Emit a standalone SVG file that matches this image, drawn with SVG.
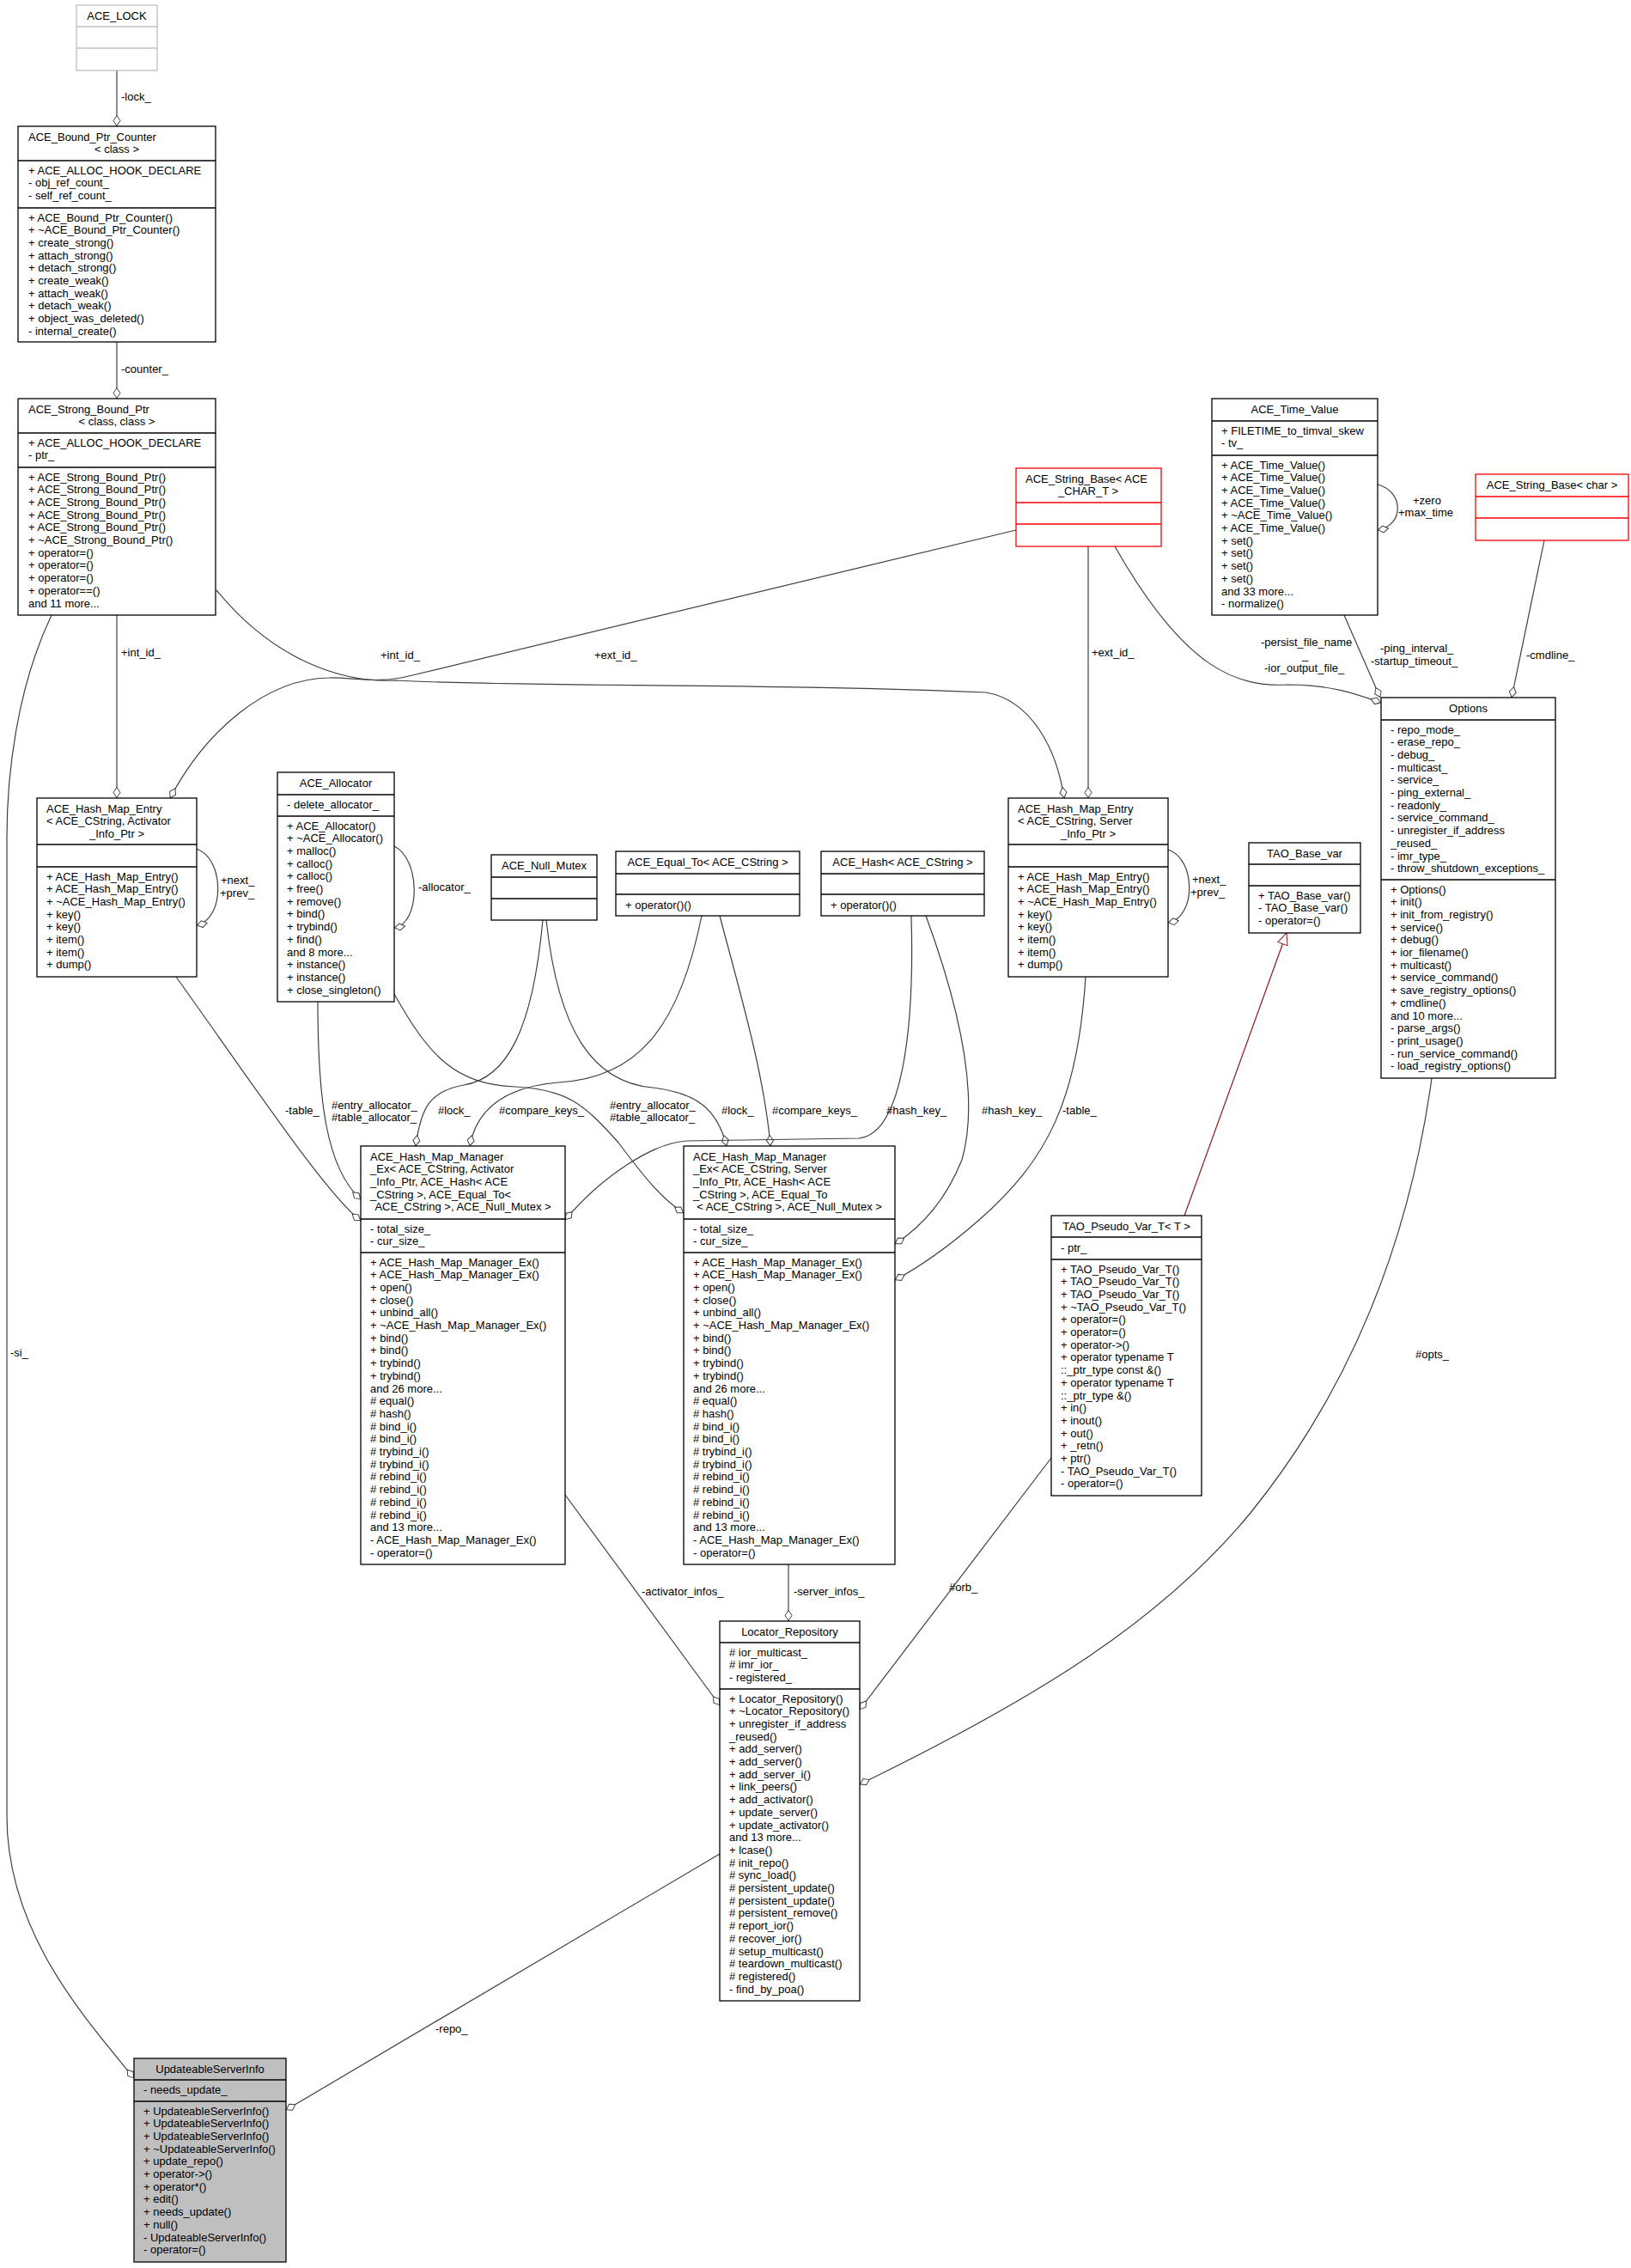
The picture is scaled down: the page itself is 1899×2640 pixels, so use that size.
<svg xmlns="http://www.w3.org/2000/svg" width="1899" height="2640" viewBox="0 0 1899 2640">
<style>
text{font-family:"Liberation Sans",Arial,sans-serif;font-size:13px;fill:#000}
.c{text-anchor:middle}
.b rect{fill:#fff;stroke:#000;stroke-width:1.3}
.b line{stroke:#000;stroke-width:1.3}
.g rect,.g line{stroke:#bfbfbf}
.r rect,.r line{stroke:#ff0000}
.e path{fill:none;stroke:#404040;stroke-width:1.2}
.e path.a{marker-end:url(#d)}
.e path.i{stroke:#8b1a1a;marker-end:url(#t)}
</style>
<defs>
<marker id="d" markerWidth="16" markerHeight="10" refX="13" refY="5" orient="auto" markerUnits="userSpaceOnUse"><path d="M0.5,5 L6.5,1 L12.5,5 L6.5,9 Z" fill="#fff" stroke="#404040"/></marker>
<marker id="t" markerWidth="16" markerHeight="14" refX="14" refY="7" orient="auto" markerUnits="userSpaceOnUse"><path d="M0.5,1 L14,7 L0.5,13 Z" fill="#fff" stroke="#8b1a1a"/></marker>
</defs>
<rect width="1899" height="2640" fill="#fff"/>

<g id="edges" class="e">
<path class="a" d="M136,82 L136,147"/>
<path class="a" d="M136,398 L136,464"/>
<path class="a" d="M136,716 L136,929"/>
<path class="a" d="M252,687 C320,770 400,795 461,792 C600,800 900,795 1148,806 C1200,815 1230,870 1239,929"/>
<path class="a" d="M1183,617 L480,786 C440,797 410,788 383,789 C310,790 240,850 198,929"/>
<path class="a" d="M1267,636 L1267,929"/>
<path class="a" d="M1298,636 C1380,780 1440,800 1500,797 C1550,797 1580,808 1608,818"/>
<path class="a" d="M1565,716 L1607,812"/>
<path class="a" d="M1604,564 C1635,572 1635,612 1604,617"/>
<path class="a" d="M1798,629 L1760,812"/>
<path class="a" d="M229,988 C262,1000 262,1070 229,1077"/>
<path class="a" d="M459,985 C490,1000 490,1075 459,1080"/>
<path class="a" d="M1360,989 C1393,1000 1393,1068 1360,1074"/>
<path class="a" d="M205,1137 C300,1270 380,1390 420,1421"/>
<path class="a" d="M370,1166 C370,1280 380,1360 420,1396"/>
<path class="a" d="M632,1071 C620,1200 590,1255 540,1263 C500,1270 490,1290 484,1334"/>
<path class="a" d="M636,1071 C650,1200 690,1260 760,1266 C810,1272 835,1290 846,1334"/>
<path class="a" d="M817,1066 C790,1200 740,1255 650,1260 C590,1265 555,1290 547,1334"/>
<path class="a" d="M838,1066 C860,1150 890,1250 897,1334"/>
<path class="a" d="M459,1157 C500,1230 530,1262 600,1265 C660,1268 680,1285 720,1330 C750,1370 770,1395 796,1412"/>
<path class="a" d="M1061,1066 C1065,1200 1050,1320 1000,1325 L800,1328 C760,1330 700,1370 658,1420"/>
<path class="a" d="M1078,1066 C1120,1180 1140,1280 1120,1350 C1100,1400 1070,1430 1042,1448"/>
<path class="a" d="M1264,1137 C1255,1280 1220,1350 1140,1420 C1100,1455 1070,1475 1042,1490"/>
<path class="a" d="M658,1740 L838,1985"/>
<path class="a" d="M918,1821 L918,1887"/>
<path class="a" d="M1224,1697 L1001,1990"/>
<path class="a" d="M1667,1255 C1640,1450 1570,1620 1456,1761 C1350,1890 1200,1980 1001,2077"/>
<path class="i" d="M1379,1415 L1498,1086"/>
<path class="a" d="M60,716 C20,800 8,900 8,975 L8,2114 C8,2250 100,2350 156,2419"/>
<path class="a" d="M838,2158 L333,2456"/>
<text x="141" y="117">-lock_</text>
<text x="141" y="434">-counter_</text>
<text x="141" y="764">+int_id_</text>
<text x="443" y="767">+int_id_</text>
<text x="692" y="767">+ext_id_</text>
<text x="1271" y="764">+ext_id_</text>
<text x="1468" y="752">-persist_file_name</text>
<text x="1516" y="767">_</text>
<text x="1472" y="782">-ior_output_file_</text>
<text x="1607" y="759">-ping_interval_</text>
<text x="1596" y="774">-startup_timeout_</text>
<text x="1645" y="587">+zero</text>
<text x="1628" y="601">+max_time</text>
<text x="1777" y="767">-cmdline_</text>
<text x="257" y="1029">+next_</text>
<text x="256" y="1044">+prev_</text>
<text x="487" y="1037">-allocator_</text>
<text x="1388" y="1028">+next_</text>
<text x="1386" y="1043">+prev_</text>
<text x="332" y="1297">-table_</text>
<text x="386" y="1291">#entry_allocator_</text>
<text x="386" y="1305">#table_allocator_</text>
<text x="510" y="1297">#lock_</text>
<text x="581" y="1297">#compare_keys_</text>
<text x="710" y="1291">#entry_allocator_</text>
<text x="710" y="1305">#table_allocator_</text>
<text x="840" y="1297">#lock_</text>
<text x="899" y="1297">#compare_keys_</text>
<text x="1032" y="1297">#hash_key_</text>
<text x="1143" y="1297">#hash_key_</text>
<text x="1237" y="1297">-table_</text>
<text x="747" y="1857">-activator_infos_</text>
<text x="924" y="1857">-server_infos_</text>
<text x="1105" y="1852">#orb_</text>
<text x="1648" y="1581">#opts_</text>
<text x="12" y="1579">-si_</text>
<text x="507" y="2366">-repo_</text>
</g>

<g id="ACE_LOCK" class="b g">
<rect x="89" y="6" width="94" height="76"/>
<line x1="89" y1="31" x2="183" y2="31"/><line x1="89" y1="56" x2="183" y2="56"/>
<text class="c" x="136" y="23">ACE_LOCK</text>
</g>

<g id="ACE_Bound_Ptr_Counter" class="b">
<rect x="21" y="147" width="230" height="251"/>
<line x1="21" y1="187" x2="251" y2="187"/><line x1="21" y1="242" x2="251" y2="242"/>
<text x="33" y="163.5">ACE_Bound_Ptr_Counter</text>
<text class="c" x="136" y="178">&lt; class &gt;</text>
<text x="33" y="202.5"><tspan x="33">+ ACE_ALLOC_HOOK_DECLARE</tspan><tspan x="33" dy="14.7">- obj_ref_count_</tspan><tspan x="33" dy="14.7">- self_ref_count_</tspan></text>
<text x="33" y="257.5"><tspan x="33">+ ACE_Bound_Ptr_Counter()</tspan><tspan x="33" dy="14.7">+ ~ACE_Bound_Ptr_Counter()</tspan><tspan x="33" dy="14.7">+ create_strong()</tspan><tspan x="33" dy="14.7">+ attach_strong()</tspan><tspan x="33" dy="14.7">+ detach_strong()</tspan><tspan x="33" dy="14.7">+ create_weak()</tspan><tspan x="33" dy="14.7">+ attach_weak()</tspan><tspan x="33" dy="14.7">+ detach_weak()</tspan><tspan x="33" dy="14.7">+ object_was_deleted()</tspan><tspan x="33" dy="14.7">- internal_create()</tspan></text>
</g>

<g id="ACE_Strong_Bound_Ptr" class="b">
<rect x="21" y="464" width="230" height="252"/>
<line x1="21" y1="504" x2="251" y2="504"/><line x1="21" y1="544" x2="251" y2="544"/>
<text x="33" y="480.5">ACE_Strong_Bound_Ptr</text>
<text class="c" x="136" y="495">&lt; class, class &gt;</text>
<text x="33" y="519.5"><tspan x="33">+ ACE_ALLOC_HOOK_DECLARE</tspan><tspan x="33" dy="14.7">- ptr_</tspan></text>
<text x="33" y="559.5"><tspan x="33">+ ACE_Strong_Bound_Ptr()</tspan><tspan x="33" dy="14.7">+ ACE_Strong_Bound_Ptr()</tspan><tspan x="33" dy="14.7">+ ACE_Strong_Bound_Ptr()</tspan><tspan x="33" dy="14.7">+ ACE_Strong_Bound_Ptr()</tspan><tspan x="33" dy="14.7">+ ACE_Strong_Bound_Ptr()</tspan><tspan x="33" dy="14.7">+ ~ACE_Strong_Bound_Ptr()</tspan><tspan x="33" dy="14.7">+ operator=()</tspan><tspan x="33" dy="14.7">+ operator=()</tspan><tspan x="33" dy="14.7">+ operator=()</tspan><tspan x="33" dy="14.7">+ operator==()</tspan><tspan x="33" dy="14.7">and 11 more...</tspan></text>
</g>

<g id="ACE_Hash_Map_Entry_Activator" class="b">
<rect x="43" y="929" width="186" height="208"/>
<line x1="43" y1="983" x2="229" y2="983"/><line x1="43" y1="1009" x2="229" y2="1009"/>
<text x="54" y="945.5"><tspan x="54">ACE_Hash_Map_Entry</tspan><tspan x="54" dy="14.7">&lt; ACE_CString, Activator</tspan></text>
<text class="c" x="136" y="974.9">_Info_Ptr &gt;</text>
<text x="54" y="1024.5"><tspan x="54">+ ACE_Hash_Map_Entry()</tspan><tspan x="54" dy="14.7">+ ACE_Hash_Map_Entry()</tspan><tspan x="54" dy="14.7">+ ~ACE_Hash_Map_Entry()</tspan><tspan x="54" dy="14.7">+ key()</tspan><tspan x="54" dy="14.7">+ key()</tspan><tspan x="54" dy="14.7">+ item()</tspan><tspan x="54" dy="14.7">+ item()</tspan><tspan x="54" dy="14.7">+ dump()</tspan></text>
</g>

<g id="ACE_Allocator" class="b">
<rect x="323" y="899" width="136" height="267"/>
<line x1="323" y1="925" x2="459" y2="925"/><line x1="323" y1="950" x2="459" y2="950"/>
<text class="c" x="391" y="916">ACE_Allocator</text>
<text x="334" y="941">- delete_allocator_</text>
<text x="334" y="965.5"><tspan x="334">+ ACE_Allocator()</tspan><tspan x="334" dy="14.7">+ ~ACE_Allocator()</tspan><tspan x="334" dy="14.7">+ malloc()</tspan><tspan x="334" dy="14.7">+ calloc()</tspan><tspan x="334" dy="14.7">+ calloc()</tspan><tspan x="334" dy="14.7">+ free()</tspan><tspan x="334" dy="14.7">+ remove()</tspan><tspan x="334" dy="14.7">+ bind()</tspan><tspan x="334" dy="14.7">+ trybind()</tspan><tspan x="334" dy="14.7">+ find()</tspan><tspan x="334" dy="14.7">and 8 more...</tspan><tspan x="334" dy="14.7">+ instance()</tspan><tspan x="334" dy="14.7">+ instance()</tspan><tspan x="334" dy="14.7">+ close_singleton()</tspan></text>
</g>

<g id="ACE_Null_Mutex" class="b">
<rect x="572" y="995" width="123" height="76"/>
<line x1="572" y1="1021" x2="695" y2="1021"/><line x1="572" y1="1046" x2="695" y2="1046"/>
<text class="c" x="633.5" y="1012">ACE_Null_Mutex</text>
</g>

<g id="ACE_Equal_To" class="b">
<rect x="717" y="991" width="214" height="75"/>
<line x1="717" y1="1017" x2="931" y2="1017"/><line x1="717" y1="1041" x2="931" y2="1041"/>
<text class="c" x="824" y="1008">ACE_Equal_To&lt; ACE_CString &gt;</text>
<text x="728" y="1057.5">+ operator()()</text>
</g>

<g id="ACE_Hash" class="b">
<rect x="956" y="991" width="190" height="75"/>
<line x1="956" y1="1017" x2="1146" y2="1017"/><line x1="956" y1="1041" x2="1146" y2="1041"/>
<text class="c" x="1051" y="1008">ACE_Hash&lt; ACE_CString &gt;</text>
<text x="967" y="1057.5">+ operator()()</text>
</g>

<g id="ACE_Hash_Map_Entry_Server" class="b">
<rect x="1174" y="929" width="186" height="208"/>
<line x1="1174" y1="983" x2="1360" y2="983"/><line x1="1174" y1="1009" x2="1360" y2="1009"/>
<text x="1185" y="945.5"><tspan x="1185">ACE_Hash_Map_Entry</tspan><tspan x="1185" dy="14.7">&lt; ACE_CString, Server</tspan></text>
<text class="c" x="1267" y="974.9">_Info_Ptr &gt;</text>
<text x="1185" y="1024.5"><tspan x="1185">+ ACE_Hash_Map_Entry()</tspan><tspan x="1185" dy="14.7">+ ACE_Hash_Map_Entry()</tspan><tspan x="1185" dy="14.7">+ ~ACE_Hash_Map_Entry()</tspan><tspan x="1185" dy="14.7">+ key()</tspan><tspan x="1185" dy="14.7">+ key()</tspan><tspan x="1185" dy="14.7">+ item()</tspan><tspan x="1185" dy="14.7">+ item()</tspan><tspan x="1185" dy="14.7">+ dump()</tspan></text>
</g>

<g id="TAO_Base_var" class="b">
<rect x="1454" y="981" width="130" height="105"/>
<line x1="1454" y1="1006" x2="1584" y2="1006"/><line x1="1454" y1="1031" x2="1584" y2="1031"/>
<text class="c" x="1519" y="998">TAO_Base_var</text>
<text x="1465" y="1046.5"><tspan x="1465">+ TAO_Base_var()</tspan><tspan x="1465" dy="14.7">- TAO_Base_var()</tspan><tspan x="1465" dy="14.7">- operator=()</tspan></text>
</g>

<g id="ACE_String_Base_ACE_CHAR_T" class="b r">
<rect x="1183" y="545" width="169" height="91"/>
<line x1="1183" y1="585" x2="1352" y2="585"/><line x1="1183" y1="610" x2="1352" y2="610"/>
<text x="1194" y="561.5">ACE_String_Base&lt; ACE</text>
<text class="c" x="1267" y="576">_CHAR_T &gt;</text>
</g>

<g id="ACE_Time_Value" class="b">
<rect x="1411" y="464" width="193" height="252"/>
<line x1="1411" y1="490" x2="1604" y2="490"/><line x1="1411" y1="530" x2="1604" y2="530"/>
<text class="c" x="1507.5" y="481">ACE_Time_Value</text>
<text x="1422" y="505.5"><tspan x="1422">+ FILETIME_to_timval_skew</tspan><tspan x="1422" dy="14.7">- tv_</tspan></text>
<text x="1422" y="545.5"><tspan x="1422">+ ACE_Time_Value()</tspan><tspan x="1422" dy="14.7">+ ACE_Time_Value()</tspan><tspan x="1422" dy="14.7">+ ACE_Time_Value()</tspan><tspan x="1422" dy="14.7">+ ACE_Time_Value()</tspan><tspan x="1422" dy="14.7">+ ~ACE_Time_Value()</tspan><tspan x="1422" dy="14.7">+ ACE_Time_Value()</tspan><tspan x="1422" dy="14.7">+ set()</tspan><tspan x="1422" dy="14.7">+ set()</tspan><tspan x="1422" dy="14.7">+ set()</tspan><tspan x="1422" dy="14.7">+ set()</tspan><tspan x="1422" dy="14.7">and 33 more...</tspan><tspan x="1422" dy="14.7">- normalize()</tspan></text>
</g>

<g id="ACE_String_Base_char" class="b r">
<rect x="1718" y="552" width="178" height="77"/>
<line x1="1718" y1="578" x2="1896" y2="578"/><line x1="1718" y1="603" x2="1896" y2="603"/>
<text class="c" x="1807" y="569">ACE_String_Base&lt; char &gt;</text>
</g>

<g id="Options" class="b">
<rect x="1608" y="812" width="203" height="443"/>
<line x1="1608" y1="838" x2="1811" y2="838"/><line x1="1608" y1="1024" x2="1811" y2="1024"/>
<text class="c" x="1709.5" y="829">Options</text>
<text x="1619" y="853.5"><tspan x="1619">- repo_mode_</tspan><tspan x="1619" dy="14.7">- erase_repo_</tspan><tspan x="1619" dy="14.7">- debug_</tspan><tspan x="1619" dy="14.7">- multicast_</tspan><tspan x="1619" dy="14.7">- service_</tspan><tspan x="1619" dy="14.7">- ping_external_</tspan><tspan x="1619" dy="14.7">- readonly_</tspan><tspan x="1619" dy="14.7">- service_command_</tspan><tspan x="1619" dy="14.7">- unregister_if_address</tspan><tspan x="1619" dy="14.7">_reused_</tspan><tspan x="1619" dy="14.7">- imr_type_</tspan><tspan x="1619" dy="14.7">- throw_shutdown_exceptions_</tspan></text>
<text x="1619" y="1039.5"><tspan x="1619">+ Options()</tspan><tspan x="1619" dy="14.7">+ init()</tspan><tspan x="1619" dy="14.7">+ init_from_registry()</tspan><tspan x="1619" dy="14.7">+ service()</tspan><tspan x="1619" dy="14.7">+ debug()</tspan><tspan x="1619" dy="14.7">+ ior_filename()</tspan><tspan x="1619" dy="14.7">+ multicast()</tspan><tspan x="1619" dy="14.7">+ service_command()</tspan><tspan x="1619" dy="14.7">+ save_registry_options()</tspan><tspan x="1619" dy="14.7">+ cmdline()</tspan><tspan x="1619" dy="14.7">and 10 more...</tspan><tspan x="1619" dy="14.7">- parse_args()</tspan><tspan x="1619" dy="14.7">- print_usage()</tspan><tspan x="1619" dy="14.7">- run_service_command()</tspan><tspan x="1619" dy="14.7">- load_registry_options()</tspan></text>
</g>

<g id="ACE_Hash_Map_Manager_Ex_Activator" class="b">
<rect x="420" y="1334" width="238" height="487"/>
<line x1="420" y1="1419" x2="658" y2="1419"/><line x1="420" y1="1458" x2="658" y2="1458"/>
<text x="431" y="1350.5"><tspan x="431">ACE_Hash_Map_Manager</tspan><tspan x="431" dy="14.7">_Ex&lt; ACE_CString, Activator</tspan><tspan x="431" dy="14.7">_Info_Ptr, ACE_Hash&lt; ACE</tspan><tspan x="431" dy="14.7">_CString &gt;, ACE_Equal_To&lt;</tspan></text>
<text class="c" x="539" y="1409.3">ACE_CString &gt;, ACE_Null_Mutex &gt;</text>
<text x="431" y="1434.5"><tspan x="431">- total_size_</tspan><tspan x="431" dy="14.7">- cur_size_</tspan></text>
<text x="431" y="1473.5"><tspan x="431">+ ACE_Hash_Map_Manager_Ex()</tspan><tspan x="431" dy="14.7">+ ACE_Hash_Map_Manager_Ex()</tspan><tspan x="431" dy="14.7">+ open()</tspan><tspan x="431" dy="14.7">+ close()</tspan><tspan x="431" dy="14.7">+ unbind_all()</tspan><tspan x="431" dy="14.7">+ ~ACE_Hash_Map_Manager_Ex()</tspan><tspan x="431" dy="14.7">+ bind()</tspan><tspan x="431" dy="14.7">+ bind()</tspan><tspan x="431" dy="14.7">+ trybind()</tspan><tspan x="431" dy="14.7">+ trybind()</tspan><tspan x="431" dy="14.7">and 26 more...</tspan><tspan x="431" dy="14.7"># equal()</tspan><tspan x="431" dy="14.7"># hash()</tspan><tspan x="431" dy="14.7"># bind_i()</tspan><tspan x="431" dy="14.7"># bind_i()</tspan><tspan x="431" dy="14.7"># trybind_i()</tspan><tspan x="431" dy="14.7"># trybind_i()</tspan><tspan x="431" dy="14.7"># rebind_i()</tspan><tspan x="431" dy="14.7"># rebind_i()</tspan><tspan x="431" dy="14.7"># rebind_i()</tspan><tspan x="431" dy="14.7"># rebind_i()</tspan><tspan x="431" dy="14.7">and 13 more...</tspan><tspan x="431" dy="14.7">- ACE_Hash_Map_Manager_Ex()</tspan><tspan x="431" dy="14.7">- operator=()</tspan></text>
</g>

<g id="ACE_Hash_Map_Manager_Ex_Server" class="b">
<rect x="796" y="1334" width="246" height="487"/>
<line x1="796" y1="1419" x2="1042" y2="1419"/><line x1="796" y1="1458" x2="1042" y2="1458"/>
<text x="807" y="1350.5"><tspan x="807">ACE_Hash_Map_Manager</tspan><tspan x="807" dy="14.7">_Ex&lt; ACE_CString, Server</tspan><tspan x="807" dy="14.7">_Info_Ptr, ACE_Hash&lt; ACE</tspan><tspan x="807" dy="14.7">_CString &gt;, ACE_Equal_To</tspan></text>
<text class="c" x="919" y="1409.3">&lt; ACE_CString &gt;, ACE_Null_Mutex &gt;</text>
<text x="807" y="1434.5"><tspan x="807">- total_size_</tspan><tspan x="807" dy="14.7">- cur_size_</tspan></text>
<text x="807" y="1473.5"><tspan x="807">+ ACE_Hash_Map_Manager_Ex()</tspan><tspan x="807" dy="14.7">+ ACE_Hash_Map_Manager_Ex()</tspan><tspan x="807" dy="14.7">+ open()</tspan><tspan x="807" dy="14.7">+ close()</tspan><tspan x="807" dy="14.7">+ unbind_all()</tspan><tspan x="807" dy="14.7">+ ~ACE_Hash_Map_Manager_Ex()</tspan><tspan x="807" dy="14.7">+ bind()</tspan><tspan x="807" dy="14.7">+ bind()</tspan><tspan x="807" dy="14.7">+ trybind()</tspan><tspan x="807" dy="14.7">+ trybind()</tspan><tspan x="807" dy="14.7">and 26 more...</tspan><tspan x="807" dy="14.7"># equal()</tspan><tspan x="807" dy="14.7"># hash()</tspan><tspan x="807" dy="14.7"># bind_i()</tspan><tspan x="807" dy="14.7"># bind_i()</tspan><tspan x="807" dy="14.7"># trybind_i()</tspan><tspan x="807" dy="14.7"># trybind_i()</tspan><tspan x="807" dy="14.7"># rebind_i()</tspan><tspan x="807" dy="14.7"># rebind_i()</tspan><tspan x="807" dy="14.7"># rebind_i()</tspan><tspan x="807" dy="14.7"># rebind_i()</tspan><tspan x="807" dy="14.7">and 13 more...</tspan><tspan x="807" dy="14.7">- ACE_Hash_Map_Manager_Ex()</tspan><tspan x="807" dy="14.7">- operator=()</tspan></text>
</g>

<g id="TAO_Pseudo_Var_T" class="b">
<rect x="1224" y="1415" width="175" height="326"/>
<line x1="1224" y1="1440" x2="1399" y2="1440"/><line x1="1224" y1="1466" x2="1399" y2="1466"/>
<text class="c" x="1311.5" y="1432">TAO_Pseudo_Var_T&lt; T &gt;</text>
<text x="1235" y="1457">- ptr_</text>
<text x="1235" y="1481.5"><tspan x="1235">+ TAO_Pseudo_Var_T()</tspan><tspan x="1235" dy="14.7">+ TAO_Pseudo_Var_T()</tspan><tspan x="1235" dy="14.7">+ TAO_Pseudo_Var_T()</tspan><tspan x="1235" dy="14.7">+ ~TAO_Pseudo_Var_T()</tspan><tspan x="1235" dy="14.7">+ operator=()</tspan><tspan x="1235" dy="14.7">+ operator=()</tspan><tspan x="1235" dy="14.7">+ operator-&gt;()</tspan><tspan x="1235" dy="14.7">+ operator typename T</tspan><tspan x="1235" dy="14.7">::_ptr_type const &amp;()</tspan><tspan x="1235" dy="14.7">+ operator typename T</tspan><tspan x="1235" dy="14.7">::_ptr_type &amp;()</tspan><tspan x="1235" dy="14.7">+ in()</tspan><tspan x="1235" dy="14.7">+ inout()</tspan><tspan x="1235" dy="14.7">+ out()</tspan><tspan x="1235" dy="14.7">+ _retn()</tspan><tspan x="1235" dy="14.7">+ ptr()</tspan><tspan x="1235" dy="14.7">- TAO_Pseudo_Var_T()</tspan><tspan x="1235" dy="14.7">- operator=()</tspan></text>
</g>

<g id="Locator_Repository" class="b">
<rect x="838" y="1887" width="163" height="442"/>
<line x1="838" y1="1912" x2="1001" y2="1912"/><line x1="838" y1="1966" x2="1001" y2="1966"/>
<text class="c" x="919.5" y="1904">Locator_Repository</text>
<text x="849" y="1927.5"><tspan x="849"># ior_multicast_</tspan><tspan x="849" dy="14.7"># imr_ior_</tspan><tspan x="849" dy="14.7">- registered_</tspan></text>
<text x="849" y="1981.5"><tspan x="849">+ Locator_Repository()</tspan><tspan x="849" dy="14.7">+ ~Locator_Repository()</tspan><tspan x="849" dy="14.7">+ unregister_if_address</tspan><tspan x="849" dy="14.7">_reused()</tspan><tspan x="849" dy="14.7">+ add_server()</tspan><tspan x="849" dy="14.7">+ add_server()</tspan><tspan x="849" dy="14.7">+ add_server_i()</tspan><tspan x="849" dy="14.7">+ link_peers()</tspan><tspan x="849" dy="14.7">+ add_activator()</tspan><tspan x="849" dy="14.7">+ update_server()</tspan><tspan x="849" dy="14.7">+ update_activator()</tspan><tspan x="849" dy="14.7">and 13 more...</tspan><tspan x="849" dy="14.7">+ lcase()</tspan><tspan x="849" dy="14.7"># init_repo()</tspan><tspan x="849" dy="14.7"># sync_load()</tspan><tspan x="849" dy="14.7"># persistent_update()</tspan><tspan x="849" dy="14.7"># persistent_update()</tspan><tspan x="849" dy="14.7"># persistent_remove()</tspan><tspan x="849" dy="14.7"># report_ior()</tspan><tspan x="849" dy="14.7"># recover_ior()</tspan><tspan x="849" dy="14.7"># setup_multicast()</tspan><tspan x="849" dy="14.7"># teardown_multicast()</tspan><tspan x="849" dy="14.7"># registered()</tspan><tspan x="849" dy="14.7">- find_by_poa()</tspan></text>
</g>

<g id="UpdateableServerInfo" class="b">
<rect x="156" y="2396" width="177" height="237" style="fill:#bfbfbf"/>
<line x1="156" y1="2421" x2="333" y2="2421"/><line x1="156" y1="2446" x2="333" y2="2446"/>
<text class="c" x="244.5" y="2413">UpdateableServerInfo</text>
<text x="167" y="2437">- needs_update_</text>
<text x="167" y="2461.5"><tspan x="167">+ UpdateableServerInfo()</tspan><tspan x="167" dy="14.7">+ UpdateableServerInfo()</tspan><tspan x="167" dy="14.7">+ UpdateableServerInfo()</tspan><tspan x="167" dy="14.7">+ ~UpdateableServerInfo()</tspan><tspan x="167" dy="14.7">+ update_repo()</tspan><tspan x="167" dy="14.7">+ operator-&gt;()</tspan><tspan x="167" dy="14.7">+ operator*()</tspan><tspan x="167" dy="14.7">+ edit()</tspan><tspan x="167" dy="14.7">+ needs_update()</tspan><tspan x="167" dy="14.7">+ null()</tspan><tspan x="167" dy="14.7">- UpdateableServerInfo()</tspan><tspan x="167" dy="14.7">- operator=()</tspan></text>
</g>
</svg>
